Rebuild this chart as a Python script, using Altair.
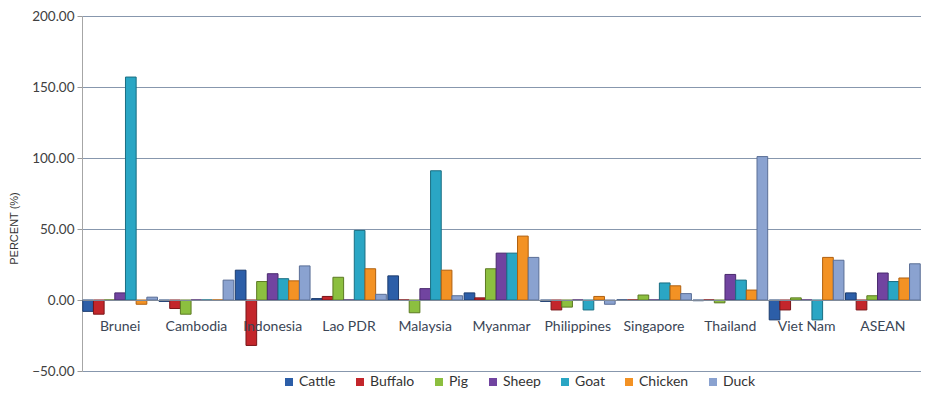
import altair as alt
import pandas as pd

categories = ["Brunei", "Cambodia", "Indonesia", "Lao PDR", "Malaysia", "Myanmar",
              "Philippines", "Singapore", "Thailand", "Viet Nam", "ASEAN"]
series = ["Cattle", "Buffalo", "Pig", "Sheep", "Goat", "Chicken", "Duck"]

cattle = [-8, -1, 21, 1, 17, 5, -1, 0, -0.5, -14, 5]
buffalo = [-10, -6, -32, 2.5, 0, 1.5, -7, 0, 0, -7, -7]
pig = [0, -10, 13, 16, -9, 22, -5, 3.5, -2, 1.5, 3]
sheep = [5, 0, 18.5, 0, 8, 33, 0, 0, 18, 0, 19]
goat = [157, 0, 15, 49, 91, 33, -7, 12, 14, -14, 13]
chicken = [-3, 0, 13.5, 22, 21, 45, 2.5, 10, 7, 30, 15.5]
duck = [2, 14, 24, 4, 3, 30, -3, 4.5, 101, 28, 25.5]

y_ticks = [-50, 0, 50, 100, 150, 200]

fill_colors = ["#2c5ea8", "#c3262b", "#8cbf3f", "#7144a0", "#2aa6c4", "#f39224", "#8aa2d0"]
stroke_colors = ["#1c3c6e", "#7a1518", "#5c7a22", "#4a2a6e", "#1a6e82", "#b0600f", "#5a6e96"]

rows = []
for name, vals in zip(series, [cattle, buffalo, pig, sheep, goat, chicken, duck]):
    for c, v in zip(categories, vals):
        rows.append({"Country": c, "Animal": name, "Value": v})
df = pd.DataFrame(rows)

chart = alt.Chart(df).mark_bar(strokeWidth=1).encode(
    x=alt.X(
        "Country:N", sort=categories,
        scale=alt.Scale(paddingInner=0.02, paddingOuter=0.01),
        axis=alt.Axis(
            title=None, labelAngle=0, ticks=False, domain=True,
            domainColor="#7f8a99", offset=-71, labelPadding=19,
            labelFont="Lato", labelFontSize=14, labelColor="#3b4656", zindex=1,
        ),
    ),
    xOffset=alt.XOffset("Animal:N", sort=series,
                        scale=alt.Scale(paddingInner=0, paddingOuter=0)),
    y=alt.Y(
        "Value:Q",
        scale=alt.Scale(domain=[-50, 200], nice=False),
        axis=alt.Axis(
            values=y_ticks, format=".2f", title="PERCENT (%)",
            labelFont="Lato", labelFontSize=13.5, labelColor="#404040", labelPadding=3,
            tickSize=5, tickColor="#9a9a9a", domainColor="#a6a6a6",
            gridColor="#8797ad", gridWidth=1,
            titleFont="Liberation Sans", titleFontSize=11, titleFontWeight="normal",
            titleColor="#333333", titleAngle=270, titleX=-68, titleY=212,
            titleAlign="center", titleBaseline="middle",
        ),
    ),
    color=alt.Color(
        "Animal:N", sort=series,
        scale=alt.Scale(domain=series, range=fill_colors),
        legend=alt.Legend(
            title=None, orient="none", legendX=200, legendY=359,
            direction="horizontal", symbolType="square", symbolSize=64,
            symbolStrokeWidth=0, labelFont="Lato", labelFontSize=14,
            labelColor="#333333", columnPadding=17, labelOffset=3,
        ),
    ),
    stroke=alt.Stroke("Animal:N", sort=series,
                      scale=alt.Scale(domain=series, range=stroke_colors), legend=None),
).properties(
    width=839, height=355,
    autosize=alt.AutoSizeParams(type="none"),
    padding={"left": 74, "top": 8, "right": 0, "bottom": 23},
).configure_view(
    fill="#b9cde5", stroke=None
).configure(background="white")

chart.save("out.html", embed_options={"renderer": "svg", "actions": False})
